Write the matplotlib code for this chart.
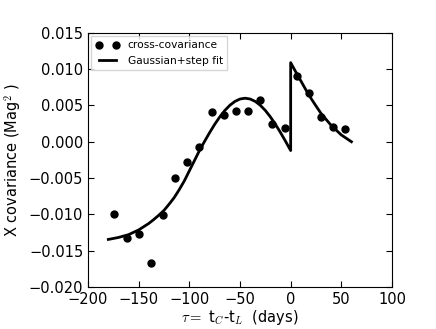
import numpy as np
import matplotlib
matplotlib.use('Agg')
import matplotlib.pyplot as plt

plt.rcParams['mathtext.fontset'] = 'cm'

# cross-covariance points
tau = [-174, -162, -150, -138, -126, -114, -102, -90, -78, -66,
       -54, -42, -30, -18, -6, 6, 18, 30, 42, 54]
cov = [-0.0099, -0.0132, -0.0127, -0.0167, -0.0101, -0.0050, -0.0028, -0.00075, 0.0041, 0.0037,
       0.00425, 0.00425, 0.0058, 0.0024, 0.0019, 0.0091, 0.0067, 0.0034, 0.0020, 0.0017]

# Gaussian+step fit
fit_tau = [-180, -170, -160, -150, -140, -135, -130, -125, -120, -115, -110, -105,
           -100, -95, -90, -85, -80, -75, -70, -65, -60, -55, -50, -45, -40, -35,
           -30, -25, -20, -15, -10, -5, 0,
           0, 5, 10, 15, 20, 25, 30, 40, 50, 60]
fit_cov = [-0.01346, -0.01319, -0.01280, -0.01215, -0.01125, -0.01070, -0.01010, -0.00945,
           -0.00860, -0.00770, -0.00660, -0.00540, -0.00400, -0.00260, -0.00120, 0.00005,
           0.00126, 0.00240, 0.00342, 0.00431, 0.00503, 0.00556, 0.00589, 0.00600, 0.00589,
           0.00556, 0.00503, 0.00431, 0.00342, 0.00240, 0.00126, 0.00005, -0.00121,
           0.01090, 0.00963, 0.00840, 0.00716, 0.00600, 0.00493, 0.00390, 0.00225,
           0.00094, 0.00000]

fig = plt.figure(figsize=(4.36, 3.29), dpi=100)
ax = fig.add_axes([0.202, 0.128, 0.697, 0.772])

ax.plot(tau, cov, 'ko', markersize=5, label='cross-covariance')
ax.plot(fit_tau, fit_cov, 'k-', linewidth=2, label='Gaussian+step fit')

ax.set_xlim(-200, 100)
ax.set_ylim(-0.02, 0.015)
ax.set_xticks(np.arange(-200, 101, 50))
ax.set_yticks(np.arange(-0.02, 0.0151, 0.005))
ax.tick_params(direction='in', top=True, right=True, length=4, labelsize=10.5)
ax.set_yticklabels([u'\u22120.020', u'\u22120.015', u'\u22120.010', u'\u22120.005',
                    '0.000', '0.005', '0.010', '0.015'])

ax.set_xlabel(r'$\tau=$ t$_C$-t$_L$  (days)', fontsize=10.5, labelpad=1)
ax.set_ylabel(r'X covariance (Mag$^\mathsf{2}$ )', fontsize=10.5)

ax.legend(loc='upper left', numpoints=2, fontsize=7.7, fancybox=False,
          borderaxespad=0.3, handlelength=2.2)

plt.savefig('out.png', dpi=100)
